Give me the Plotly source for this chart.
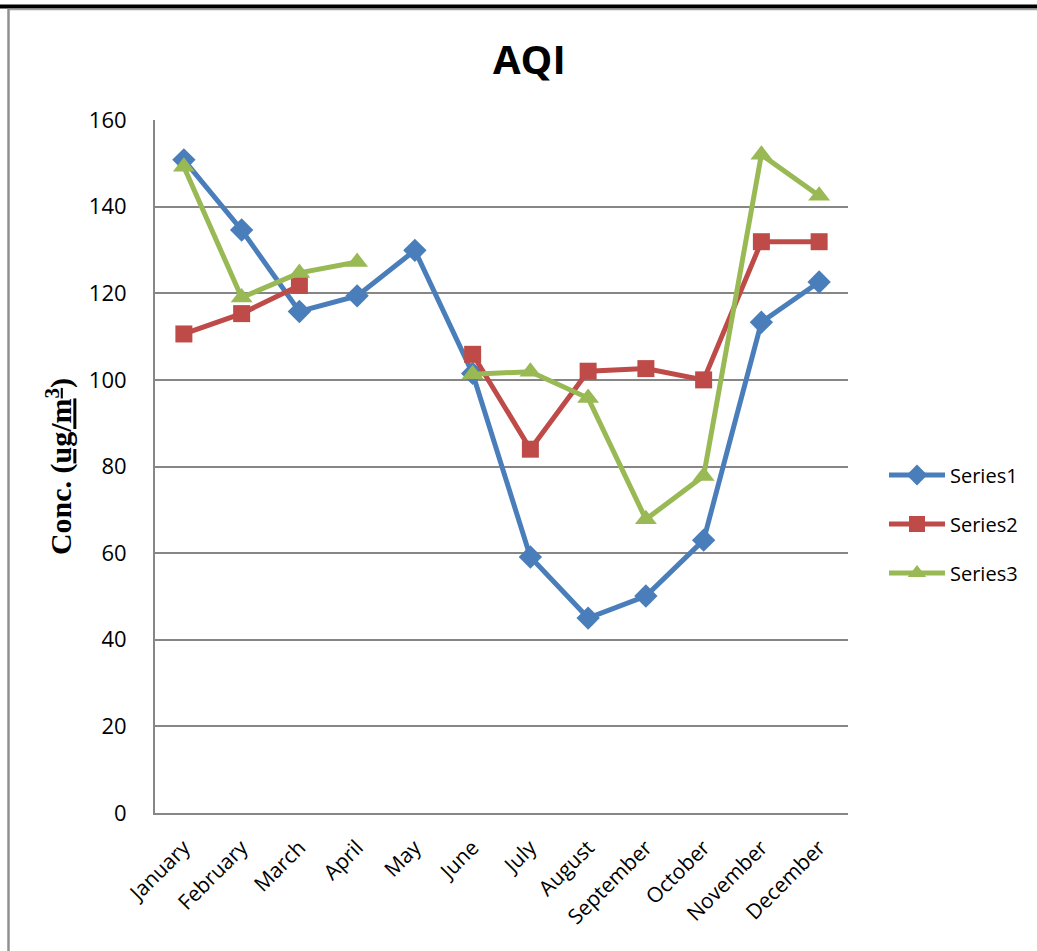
import plotly.graph_objects as go

months = ["January", "February", "March", "April", "May", "June", "July",
          "August", "September", "October", "November", "December"]
series1 = [150.8, 134.6, 115.8, 119.4, 129.9, 101.5, 59.1, 45.0, 50.1, 63.0, 113.3, 122.6]
series2 = [110.6, 115.3, 121.8, None, None, 105.9, 84.0, 102.0, 102.6, 100.0, 131.9, 131.9]
series3 = [149.2, 119.0, 124.7, 127.2, None, 101.3, 101.9, 95.8, 67.8, 77.8, 152.0, 142.5]
y_ticks = [0, 20, 40, 60, 80, 100, 120, 140, 160]

W, H = 1037, 951
L, R, T, B = 155, 848, 120, 813  # plot area in pixels

def px(x):
    return (x - L) / (R - L)

def py(y):
    return (B - y) / (B - T)

GRID = "#868686"
BODY_FONT = "Open Sans"

fig = go.Figure()
styles = [
    ("Series1", series1, "#4A7EBB", "diamond", 18),
    ("Series2", series2, "#BE4B48", "square", 17),
    ("Series3", series3, "#98B954", "triangle-up", 19),
]
for name, vals, color, sym, size in styles:
    fig.add_trace(go.Scatter(
        x=months, y=vals, name=name, mode="lines+markers",
        legendgroup=name,
        line=dict(color=color, width=5),
        marker=dict(symbol=sym, size=size, color=color,
                    line=dict(width=0)),
        connectgaps=False,
    ))

fig.update_layout(
    width=W, height=H,
    margin=dict(l=L, r=W - R, t=T, b=H - B, pad=0),
    paper_bgcolor="white", plot_bgcolor="white",
    font=dict(family=BODY_FONT, size=21, color="black"),
    showlegend=True,
    legend=dict(
        x=px(884), y=py(524), xanchor="left", yanchor="middle",
        font=dict(family=BODY_FONT, size=20, color="black"),
        itemwidth=56, tracegroupgap=20, bgcolor="rgba(0,0,0,0)",
    ),
    xaxis=dict(
        type="category", range=[-0.5, 11.5],
        showgrid=False, showline=True, linecolor=GRID, linewidth=2,
        tickangle=-45, ticks="", tickfont=dict(size=21),
        ticklabelstandoff=12,
        mirror=False, zeroline=False,
    ),
    yaxis=dict(
        range=[0, 160], tickvals=y_ticks, showgrid=True, gridcolor=GRID,
        gridwidth=2, showline=True, linecolor=GRID, linewidth=2,
        ticks="", ticklabelstandoff=22,
        tickfont=dict(size=22), zeroline=False,
        title=dict(
            text="<b>Conc. (<u>ug/m<sup>3</sup></u>)</b>",
            font=dict(family="Liberation Serif", size=30, color="black"),
            standoff=8,
        ),
    ),
    annotations=[
        dict(text="<b>AQI</b>", x=px(529), y=py(58), xref="paper", yref="paper",
             showarrow=False, xanchor="center", yanchor="middle",
             font=dict(family=BODY_FONT, size=40, color="black")),
    ],
    shapes=[
        # page frame: heavy rule along the top, thin rule along the left
        dict(type="line", xref="paper", yref="paper",
             x0=px(0), x1=px(W), y0=py(6.5), y1=py(6.5),
             line=dict(color="black", width=4)),
        dict(type="line", xref="paper", yref="paper",
             x0=px(8), x1=px(W), y0=py(9.5), y1=py(9.5),
             line=dict(color="#A0A0A0", width=1.5)),
        dict(type="line", xref="paper", yref="paper",
             x0=px(8.5), x1=px(8.5), y0=py(9), y1=py(H),
             line=dict(color="#909090", width=2.5)),
    ],
)

fig.write_html("out.html")
